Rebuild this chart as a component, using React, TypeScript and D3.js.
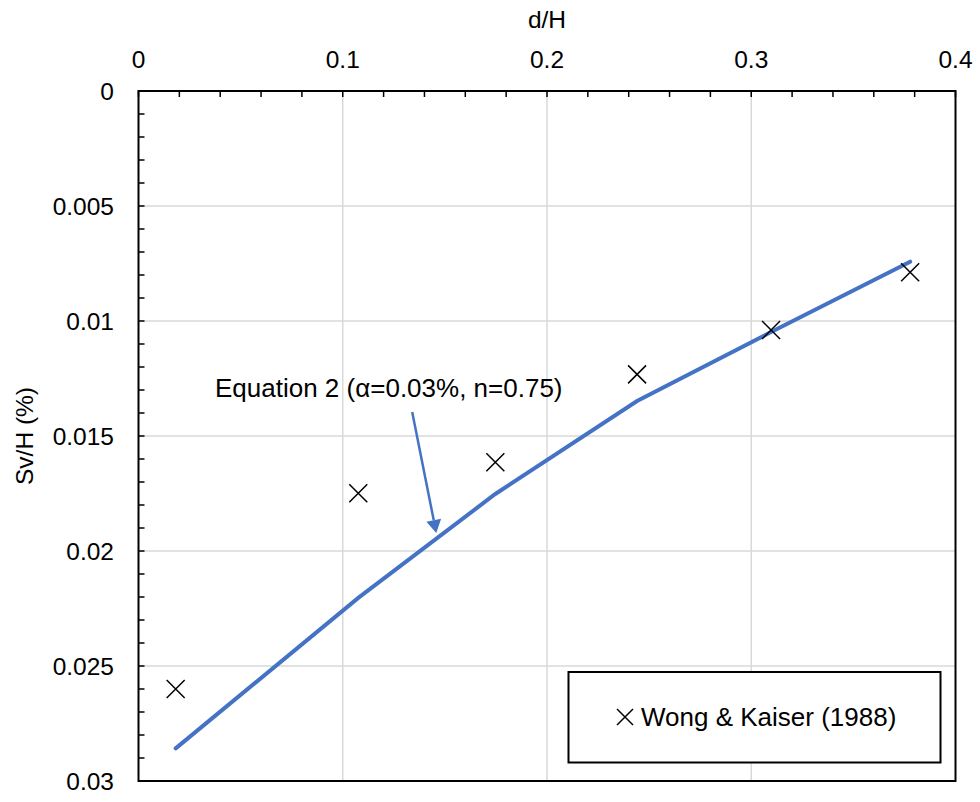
import * as d3 from 'd3';
import { useEffect, useRef } from 'react';

// d/H for each measured case and the two Sv/H series (%)
const dH = [0.0182, 0.1076, 0.1747, 0.2441, 0.3097, 0.3778];
const svObserved = [0.026, 0.01749, 0.01614, 0.01232, 0.01039, 0.00788];
const svEquation = [0.02858, 0.02204, 0.01752, 0.01348, 0.01048, 0.00742];

const xTicks = [0, 0.1, 0.2, 0.3, 0.4];
const yTicks = [0, 0.005, 0.01, 0.015, 0.02, 0.025, 0.03];

const seriesName = 'Wong & Kaiser (1988)';
const annotationText = 'Equation 2 (\u03b1=0.03%, n=0.75)';
// arrow from label to the curve, in data units [d/H, Sv/H]
const arrowFrom = [0.134, 0.01396];
const arrowTo = [0.1458, 0.01922];

const FONT = 'Arial, "Liberation Sans", sans-serif';
const BLUE = '#4472C4';

const App = () => {
  const ref = useRef<SVGSVGElement>(null);

  useEffect(() => {
    document.body.style.margin = '0';
    const svg = d3.select(ref.current);
    svg.selectAll('*').remove();

    const width = 980, height = 802;
    const m = { top: 91, right: 24.5, bottom: 21, left: 138.5 };

    svg.attr('width', width).attr('height', height);

    const x = d3.scaleLinear().domain([0, 0.4]).range([m.left, width - m.right]);
    const y = d3.scaleLinear().domain([0, 0.03]).range([m.top, height - m.bottom]);

    const g = svg.append('g');

    // gridlines
    g.selectAll('line.vgrid')
      .data(xTicks.slice(1, -1))
      .enter().append('line')
      .attr('x1', d => x(d)).attr('x2', d => x(d))
      .attr('y1', y(0)).attr('y2', y(0.03))
      .attr('stroke', '#d9d9d9').attr('stroke-width', 1.5);
    g.selectAll('line.hgrid')
      .data(yTicks.slice(1, -1))
      .enter().append('line')
      .attr('x1', x(0)).attr('x2', x(0.4))
      .attr('y1', d => y(d)).attr('y2', d => y(d))
      .attr('stroke', '#d9d9d9').attr('stroke-width', 1.5);

    // minor ticks, pointing inward
    const xMinor = d3.range(0, 0.4001, 0.02);
    g.selectAll('line.xt')
      .data(xMinor)
      .enter().append('line')
      .attr('x1', d => x(d)).attr('x2', d => x(d))
      .attr('y1', y(0)).attr('y2', y(0) + 6)
      .attr('stroke', '#000').attr('stroke-width', 1.5);
    const yMinor = d3.range(0, 0.03001, 0.001);
    g.selectAll('line.yt')
      .data(yMinor)
      .enter().append('line')
      .attr('x1', x(0)).attr('x2', x(0) + 6)
      .attr('y1', d => y(d)).attr('y2', d => y(d))
      .attr('stroke', '#000').attr('stroke-width', 1.5);

    // frame
    g.append('rect')
      .attr('x', x(0)).attr('y', y(0))
      .attr('width', x(0.4) - x(0)).attr('height', y(0.03) - y(0))
      .attr('fill', 'none').attr('stroke', '#000').attr('stroke-width', 2);

    // tick labels
    g.selectAll('text.xl')
      .data(xTicks)
      .enter().append('text')
      .attr('x', d => x(d)).attr('y', 68)
      .attr('text-anchor', 'middle')
      .style('font-family', FONT).style('font-size', '24.5px')
      .text(d => d3.format('')(d));
    g.selectAll('text.yl')
      .data(yTicks)
      .enter().append('text')
      .attr('x', 114).attr('y', d => y(d) + 9)
      .attr('text-anchor', 'end')
      .style('font-family', FONT).style('font-size', '24.5px')
      .text(d => d3.format('')(+d.toFixed(3)));

    // axis titles
    g.append('text')
      .attr('x', (x(0) + x(0.4)) / 2).attr('y', 28)
      .attr('text-anchor', 'middle')
      .style('font-family', FONT).style('font-size', '24.5px')
      .text('d/H');
    g.append('text')
      .attr('transform', `translate(33, ${(y(0) + y(0.03)) / 2}) rotate(-90)`)
      .attr('text-anchor', 'middle')
      .style('font-family', FONT).style('font-size', '24.5px')
      .text('Sv/H (%)');

    // equation curve
    const line = d3.line<number>().x((_, i) => x(dH[i])).y(d => y(d));
    g.append('path')
      .datum(svEquation)
      .attr('d', line)
      .attr('fill', 'none').attr('stroke', BLUE).attr('stroke-width', 4)
      .attr('stroke-linecap', 'round');

    // observed points as crosses
    const cross = (cx: number, cy: number, r: number) =>
      `M${cx - r},${cy - r}L${cx + r},${cy + r}M${cx - r},${cy + r}L${cx + r},${cy - r}`;
    g.selectAll('path.pt')
      .data(svObserved)
      .enter().append('path')
      .attr('d', (d, i) => cross(x(dH[i]), y(d), 9))
      .attr('stroke', '#000').attr('stroke-width', 1.5).attr('fill', 'none');

    // annotation + arrow
    g.append('text')
      .attr('x', 215).attr('y', 397)
      .style('font-family', FONT).style('font-size', '26px')
      .text(annotationText);
    const x1 = x(arrowFrom[0]), y1 = y(arrowFrom[1]);
    const x2 = x(arrowTo[0]), y2 = y(arrowTo[1]);
    const ang = Math.atan2(y2 - y1, x2 - x1);
    const headLen = 13, headW = 7.5;
    const bx = x2 - headLen * Math.cos(ang), by = y2 - headLen * Math.sin(ang);
    g.append('line')
      .attr('x1', x1).attr('y1', y1).attr('x2', bx).attr('y2', by)
      .attr('stroke', BLUE).attr('stroke-width', 2.5);
    g.append('path')
      .attr('d', `M${x2},${y2}L${bx + headW * Math.sin(ang)},${by - headW * Math.cos(ang)}L${bx - headW * Math.sin(ang)},${by + headW * Math.cos(ang)}Z`)
      .attr('fill', BLUE);

    // legend
    g.append('rect')
      .attr('x', 568.5).attr('y', 672)
      .attr('width', 372).attr('height', 90.5)
      .attr('fill', '#fff').attr('stroke', '#000').attr('stroke-width', 2);
    g.append('path')
      .attr('d', cross(625, 717, 8))
      .attr('stroke', '#000').attr('stroke-width', 1.5);
    g.append('text')
      .attr('x', 641).attr('y', 726)
      .style('font-family', FONT).style('font-size', '26px')
      .text(seriesName);
  }, []);

  return <svg ref={ref} style={{ display: 'block' }}></svg>;
};

export default App;
